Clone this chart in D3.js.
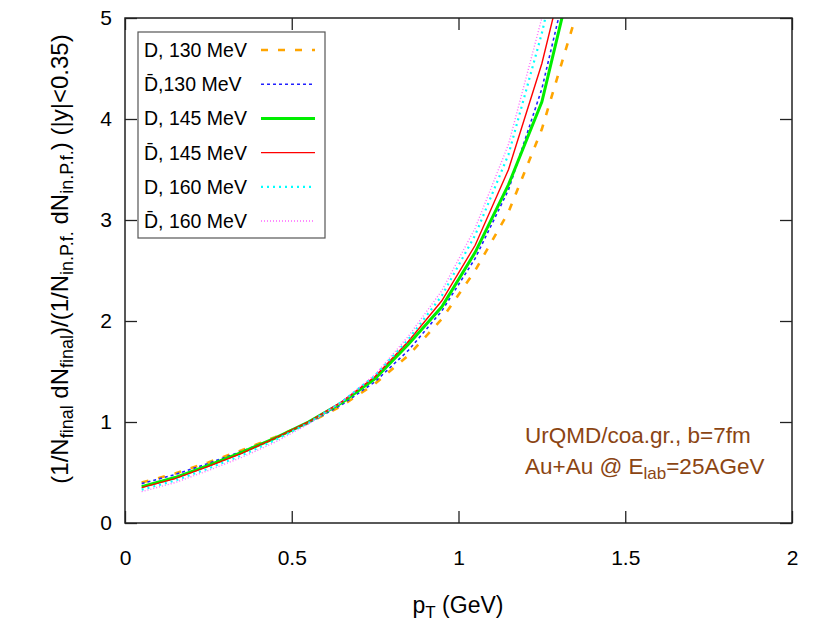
<!DOCTYPE html>
<html><head><meta charset="utf-8">
<script src="https://cdn.jsdelivr.net/npm/d3@7"></script>
<style>body{margin:0;background:#fff}svg{display:block;font-family:"Liberation Sans",Arial,sans-serif}</style>
</head><body><svg id="c" width="830" height="623"></svg>
<script>
const pT = [0.05,0.15,0.25,0.35,0.45,0.55,0.65,0.75,0.85,0.95,1.05,1.15,1.25,1.35];
const D130    = [0.40,0.49,0.60,0.72,0.85,0.99,1.16,1.38,1.66,2.02,2.50,3.08,3.90,5.00];
const Dbar130 = [0.39,0.48,0.59,0.71,0.84,0.99,1.17,1.40,1.71,2.10,2.62,3.30,4.30,5.70];
const D145    = [0.36,0.45,0.57,0.70,0.84,1.00,1.19,1.43,1.77,2.14,2.68,3.35,4.17,5.55];
const Dbar145 = [0.35,0.44,0.56,0.69,0.84,1.00,1.20,1.45,1.80,2.20,2.75,3.50,4.55,5.90];
const D160    = [0.33,0.42,0.54,0.67,0.82,0.99,1.20,1.46,1.82,2.25,2.85,3.65,4.85,6.30];
const Dbar160 = [0.31,0.40,0.52,0.65,0.80,0.98,1.20,1.47,1.85,2.30,2.92,3.75,5.00,6.50];
const xTicks = [0,0.5,1,1.5,2];
const yTicks = [0,1,2,3,4,5];
const legendLabels = ["D, 130 MeV","D\u0304,130 MeV","D, 145 MeV","D\u0304, 145 MeV","D, 160 MeV","D\u0304, 160 MeV"];

const series = [
  {label:legendLabels[0], y:D130,    color:"#ffa500", w:2.6, dash:"7,10"},
  {label:legendLabels[1], y:Dbar130, color:"#2020ff", w:1.6, dash:"3,3"},
  {label:legendLabels[2], y:D145,    color:"#00ee00", w:3,   dash:null},
  {label:legendLabels[3], y:Dbar145, color:"#ff0000", w:1.4, dash:null},
  {label:legendLabels[4], y:D160,    color:"#00ffff", w:2.2, dash:"2,4"},
  {label:legendLabels[5], y:Dbar160, color:"#ff66ff", w:1.4, dash:"1,2"}
];

const svg = d3.select("#c");
const L=125,R=792,T=18,B=523;
const x = d3.scaleLinear().domain([0,2]).range([L,R]);
const y = d3.scaleLinear().domain([0,5]).range([B,T]);

svg.append("defs").append("clipPath").attr("id","clip")
  .append("rect").attr("x",L).attr("y",T).attr("width",R-L).attr("height",B-T);

// curves
const line = d3.line().x((d,i)=>x(pT[i])).y(d=>y(d));
const g = svg.append("g").attr("clip-path","url(#clip)");
series.forEach(s=>{
  g.append("path").attr("d",line(s.y)).attr("fill","none")
   .attr("stroke",s.color).attr("stroke-width",s.w)
   .attr("stroke-dasharray",s.dash);
});

// axes with inward ticks, mirrored
const tl=12;
const axB = d3.axisBottom(x).tickValues(xTicks).tickSizeInner(-tl).tickSizeOuter(0).tickPadding(27).tickFormat(d3.format("~g"));
const axT = d3.axisTop(x).tickValues(xTicks).tickSizeInner(-tl).tickSizeOuter(0).tickFormat("");
const axL = d3.axisLeft(y).tickValues(yTicks).tickSizeInner(-tl).tickSizeOuter(0).tickPadding(13).tickFormat(d3.format("~g"));
const axR = d3.axisRight(y).tickValues(yTicks).tickSizeInner(-tl).tickSizeOuter(0).tickFormat("");
function style(sel){
  sel.selectAll("path.domain").remove();
  sel.selectAll(".tick line").attr("stroke","#222").attr("stroke-width",1.3);
  sel.selectAll("text").attr("font-size",21).attr("font-family","Liberation Sans, Arial, sans-serif").attr("fill","#000");
}
svg.append("g").attr("transform",`translate(0,${B})`).call(axB).call(style);
svg.append("g").attr("transform",`translate(0,${T})`).call(axT).call(style);
svg.append("g").attr("transform",`translate(${L},0)`).call(axL).call(style);
svg.append("g").attr("transform",`translate(${R},0)`).call(axR).call(style);
svg.append("rect").attr("x",L).attr("y",T).attr("width",R-L).attr("height",B-T)
  .attr("fill","none").attr("stroke","#222").attr("stroke-width",1.5);

// legend
const lg = svg.append("g");
lg.append("rect").attr("x",138).attr("y",32).attr("width",187).attr("height",206)
  .attr("fill","#fff").attr("stroke","#555").attr("stroke-width",1.2);
series.forEach((s,i)=>{
  const yy = 50 + i*34.2;
  lg.append("text").attr("x",144).attr("y",yy+7).attr("font-size",19.5).text(s.label);
  lg.append("line").attr("x1",261).attr("x2",315).attr("y1",yy).attr("y2",yy)
    .attr("stroke",s.color).attr("stroke-width",s.w).attr("stroke-dasharray",s.dash);
});

// annotation
const brown="#8b4513";
svg.append("text").attr("x",525).attr("y",443).attr("font-size",22.5).attr("fill",brown).text("UrQMD/coa.gr., b=7fm");
const t2 = svg.append("text").attr("x",525).attr("y",474).attr("font-size",22.5).attr("fill",brown);
t2.append("tspan").text("Au+Au @ E");
t2.append("tspan").attr("font-size",17).attr("dy",5).text("lab");
t2.append("tspan").attr("dy",-5).text("=25AGeV");

// x label
const xl = svg.append("text").attr("x",458).attr("y",613).attr("text-anchor","middle").attr("font-size",23);
xl.append("tspan").text("p");
xl.append("tspan").attr("font-size",17).attr("dy",5).text("T");
xl.append("tspan").attr("dy",-5).text(" (GeV)");

// y label
const yl = svg.append("text").attr("transform","translate(68,259) rotate(-90)").attr("text-anchor","middle").attr("font-size",24);
const parts = [["(1/N",0],["final",1],[" dN",0],["final",1],[")/(1/N",0],["in.P.f.",1],[" dN",0],["in.P.f.",1],[") (|y|<0.35)",0]];
let prev=0;
parts.forEach(([t,sub])=>{
  const dy = sub? (prev?0:5) : (prev?-5:0);
  const ts = yl.append("tspan").text(t).attr("dy",dy);
  if(sub) ts.attr("font-size",18);
  prev=sub;
});
</script></body></html>
